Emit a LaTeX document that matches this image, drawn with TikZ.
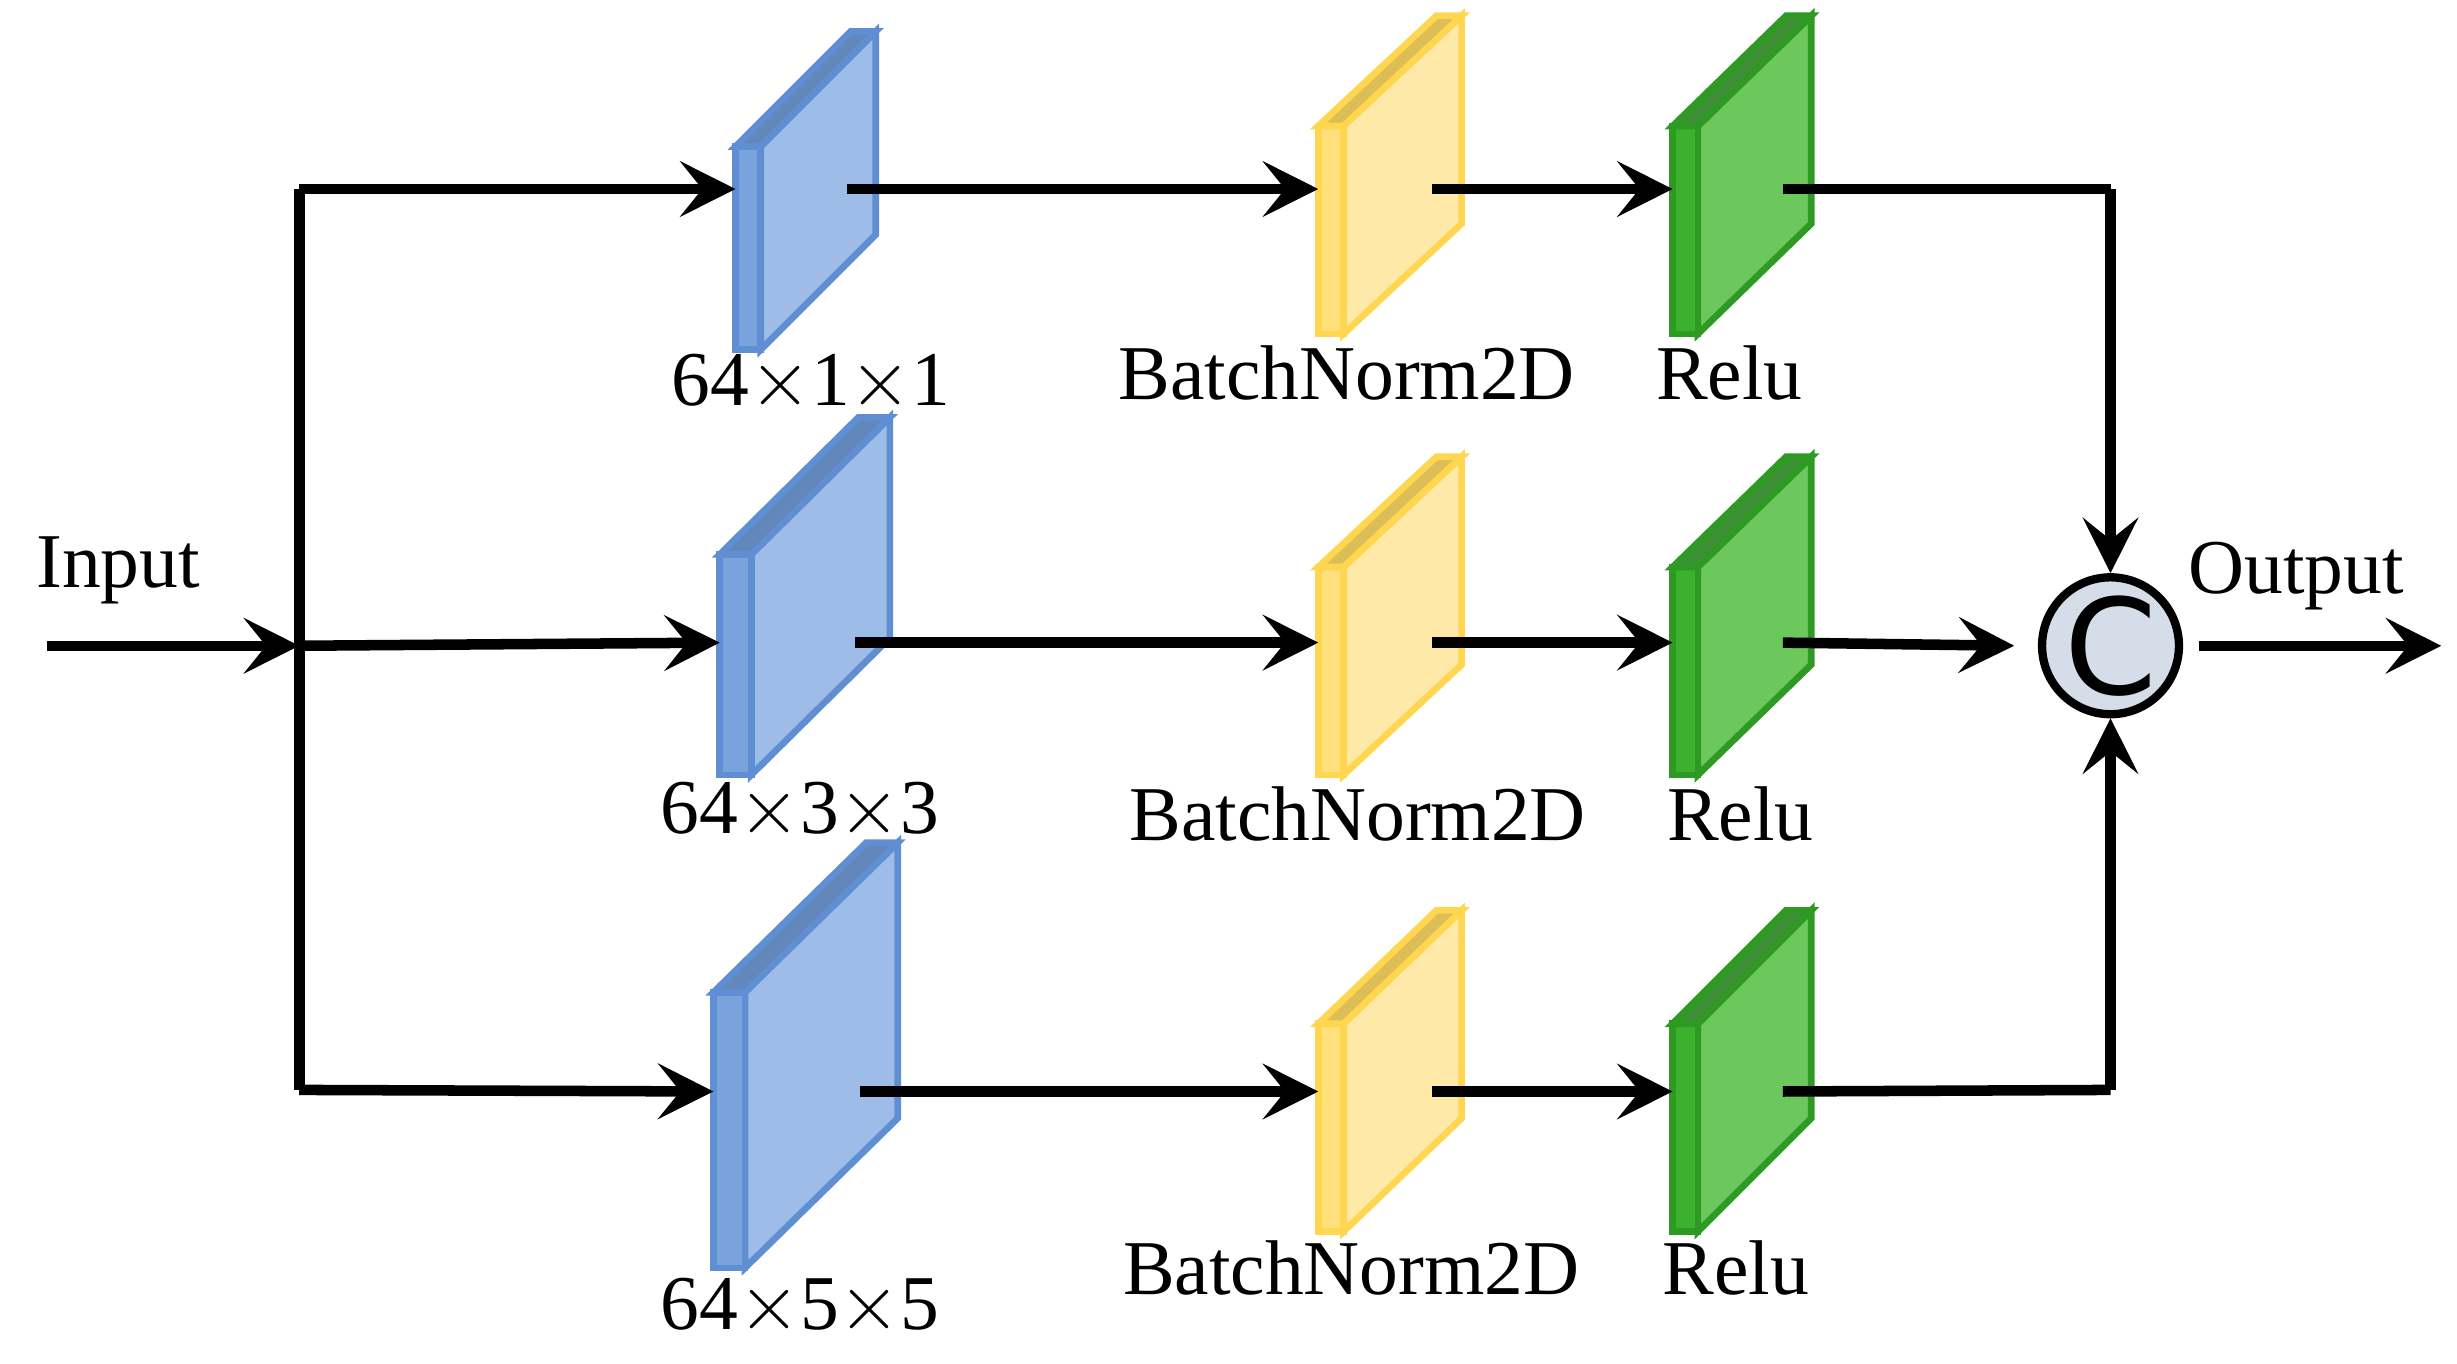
\documentclass[tikz,border=0pt]{standalone}
\usepackage{fontspec}
\setmainfont{Liberation Serif}
\newfontfamily\catfont{DejaVu Sans}
\usetikzlibrary{arrows.meta,positioning}
\definecolor{bluef}{HTML}{9EBCE8}\definecolor{bluee}{HTML}{5F8FD2}\definecolor{blues}{HTML}{7AA3DE}
\definecolor{yelf}{HTML}{FFE9A8}\definecolor{yele}{HTML}{FFD64F}\definecolor{yels}{HTML}{FFE07A}
\definecolor{grnf}{HTML}{6CC85C}\definecolor{grne}{HTML}{2E9A24}\definecolor{grns}{HTML}{3BB12E}
\definecolor{catf}{HTML}{D5DDE8}
% slab: name, x, strip width, top, bottom, dx, dy, colour prefix, row y
\newcommand\layer[9]{%
  \fill[#8f,draw=#8e,line width=1.2pt] (#2+#3,#4) -- ++(#6,-#7) -- (#2+#3+#6,#5-#7) -- (#2+#3,#5) -- cycle;
  \fill[#8s,draw=#8e,line width=1.2pt] (#2,#4) rectangle (#2+#3,#5);
  \fill[#8e!85!black!90,draw=#8e,line width=1.2pt] (#2,#4) -- ++(#6,-#7) -- ++(#3,0) -- (#2+#3,#4) -- cycle;
  \coordinate (#1-in) at (#2,#9);
  \coordinate (#1-out) at (#2+#3+#6*0.75,#9);
  \coordinate (#1-lab) at (#2+#3*0.5+#6*0.5,#5);
}
\tikzset{
  flow/.style={line width=1.9pt,-{Stealth[length=10pt,width=10pt,inset=4pt]}},
  line/.style={line width=1.9pt},
  lab/.style={font=\fontsize{14pt}{16pt}\selectfont,inner sep=0pt}
}
\begin{document}
\begin{tikzpicture}[x=0.01cm,y=-0.01cm]
  \useasboundingbox (0,0) rectangle (1560,866);
  % branch 1
  \layer{c1}{467}{16}{93}{222}{73}{73}{blue}{120}
  \layer{b1}{837}{16}{80}{212}{75}{70}{yel}{120}
  \layer{r1}{1062}{16}{80}{212}{72}{70}{grn}{120}
  % branch 2
  \layer{c2}{457}{20}{352}{492}{88}{87}{blue}{408}
  \layer{b2}{837}{16}{360}{492}{75}{70}{yel}{408}
  \layer{r2}{1062}{16}{360}{492}{72}{70}{grn}{408}
  % branch 3
  \layer{c3}{453}{20}{630}{805}{97}{95}{blue}{693}
  \layer{b3}{837}{16}{650}{782}{75}{72}{yel}{693}
  \layer{r3}{1062}{16}{650}{782}{72}{72}{grn}{693}
  \node[lab] (l1) at (515,243) {64$\times$1$\times$1};
  \node[lab] (l2) at (508,515) {64$\times$3$\times$3};
  \node[lab] (l3) at (508,830) {64$\times$5$\times$5};
  \node[lab] (n1) at (855,237) {BatchNorm2D};
  \node[lab] (n2) at (862,517) {BatchNorm2D};
  \node[lab] (n3) at (858,805) {BatchNorm2D};
  \node[lab] (u1) at (1098,237) {Relu};
  \node[lab] (u2) at (1105,517) {Relu};
  \node[lab] (u3) at (1102,805) {Relu};
  \node[lab] (in) at (75,362) {Input};
  \node[lab] (out) at (1458,366) {Output};
  \node[circle,draw=black,line width=1.5pt,fill=catf,minimum size=2.15cm*0.36,inner sep=0pt,
        font=\fontsize{24pt}{24pt}\catfont] (cat) at (1340,410) {C};
  \coordinate (src) at (30,410);
  \coordinate (split) at (190,410);
  \coordinate (top) at (190,120);
  \coordinate (bot) at (190,692);
  \coordinate (j1) at (1340,120);
  \coordinate (j3) at (1340,692);
  \coordinate (dst) at (1550,410);
  \draw[flow] (src) -- (split);
  \draw[line] (top) -- (bot);
  \draw[flow] (top) -- (c1-in);
  \draw[flow] (split) -- (c2-in);
  \draw[flow] (bot) -- (c3-in);
  \foreach \i in {1,2,3}{
    \draw[flow] (c\i-out) -- (b\i-in);
    \draw[flow] (b\i-out) -- (r\i-in);
  }
  \draw[line] (r1-out) -- (j1);
  \draw[line] (r3-out) -- (j3);
  \draw[flow] (j1) -- (cat);
  \draw[flow] (j3) -- (cat);
  \draw[flow] (r2-out) -- ([xshift=-0.15cm]cat.west);
  \draw[flow] ([xshift=0.1cm]cat.east) -- (dst);
\end{tikzpicture}
\end{document}
